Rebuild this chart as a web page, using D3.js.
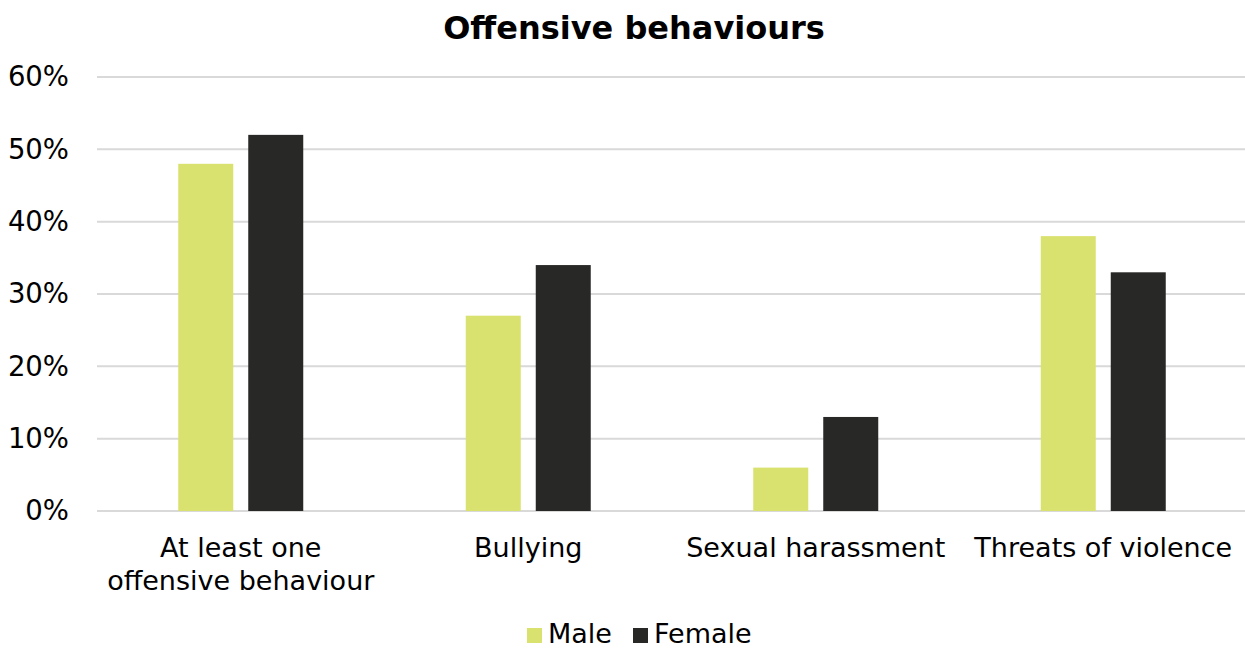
<!DOCTYPE html>
<html>
<head>
<meta charset="utf-8">
<script src="https://cdn.jsdelivr.net/npm/d3@7"></script>
<style>
  body { margin: 0; background: #fff; overflow: hidden; }
  text { font-family: "DejaVu Sans", Verdana, sans-serif; fill: #000; }
</style>
</head>
<body>
<div id="chart"></div>
<script>
// chart data
var categories = [["At least one", "offensive behaviour"], ["Bullying"], ["Sexual harassment"], ["Threats of violence"]];
var seriesNames = ["Male", "Female"];
var maleValues = [48, 27, 6, 38];
var femaleValues = [52, 34, 13, 33];
var yTicks = [0, 10, 20, 30, 40, 50, 60];

var colors = {Male: "#d9e26e", Female: "#282826"};

var W = 1245, H = 648;
// plot area runs slightly past the right edge, as in the original
var margin = {top: 77, right: -2, bottom: 137, left: 97},
    width = W - margin.left - margin.right,
    height = H - margin.top - margin.bottom;

var svg = d3.select("#chart")
  .append("svg")
    .attr("width", W)
    .attr("height", H)
    .style("display", "block");

var g = svg.append("g")
    .attr("transform", "translate(" + margin.left + "," + margin.top + ")");

var keys = categories.map(function(c) { return c.join(" "); });

var x = d3.scaleBand()
  .domain(keys)
  .range([0, width]);

var y = d3.scaleLinear()
  .domain([0, 60])
  .range([height, 0]);

// gridlines
g.selectAll(".grid")
  .data(yTicks)
  .enter().append("line")
    .attr("x1", 0)
    .attr("x2", width)
    .attr("y1", function(d) { return y(d); })
    .attr("y2", function(d) { return y(d); })
    .attr("stroke", "#d9d9d9")
    .attr("stroke-width", 2);

// y axis labels
var yAxis = g.append("g")
  .call(d3.axisLeft(y).tickValues(yTicks).tickSize(0).tickPadding(28)
    .tickFormat(function(d) { return d + "%"; }));
yAxis.select(".domain").remove();
yAxis.selectAll("text")
  .style("font-size", "27.5px")
  .style("font-family", "DejaVu Sans, Verdana, sans-serif")
  .attr("fill", "#000");

// bars
var barW = 55, gap = 15;
var rows = keys.map(function(k, i) {
  return {key: k, values: [maleValues[i], femaleValues[i]]};
});

var groups = g.selectAll(".grp")
  .data(rows)
  .enter().append("g")
    .attr("transform", function(d) {
      return "translate(" + (x(d.key) + x.bandwidth() / 2) + ",0)";
    });

groups.selectAll("rect")
  .data(function(d) { return d.values; })
  .enter().append("rect")
    .attr("x", function(d, i) { return i === 0 ? -(barW + gap / 2) : gap / 2; })
    .attr("width", barW)
    .attr("y", function(d) { return y(d); })
    .attr("height", function(d) { return height - y(d); })
    .attr("fill", function(d, i) { return colors[seriesNames[i]]; });

// x labels
var xl = g.selectAll(".xlab")
  .data(categories)
  .enter().append("text")
    .attr("text-anchor", "middle")
    .style("font-size", "27px")
    .attr("transform", function(d, i) {
      return "translate(" + (x(keys[i]) + x.bandwidth() / 2) + "," + (height + 46) + ")";
    });
xl.selectAll("tspan")
  .data(function(d) { return d; })
  .enter().append("tspan")
    .attr("x", 0)
    .attr("dy", function(d, i) { return i === 0 ? 0 : 33; })
    .text(function(d) { return d; });

// title
svg.append("text")
  .attr("x", 634)
  .attr("y", 39)
  .attr("text-anchor", "middle")
  .style("font-size", "32px")
  .style("font-weight", "bold")
  .text("Offensive behaviours");

// legend
var legX = [527, 633];
var leg = svg.selectAll(".leg")
  .data(seriesNames)
  .enter().append("g")
    .attr("transform", function(d, i) { return "translate(" + legX[i] + ",628)"; });
leg.append("rect")
  .attr("width", 15)
  .attr("height", 15)
  .attr("fill", function(d) { return colors[d]; });
leg.append("text")
  .attr("x", 21)
  .attr("y", 15)
  .style("font-size", "27px")
  .text(function(d) { return d; });
</script>
</body>
</html>
